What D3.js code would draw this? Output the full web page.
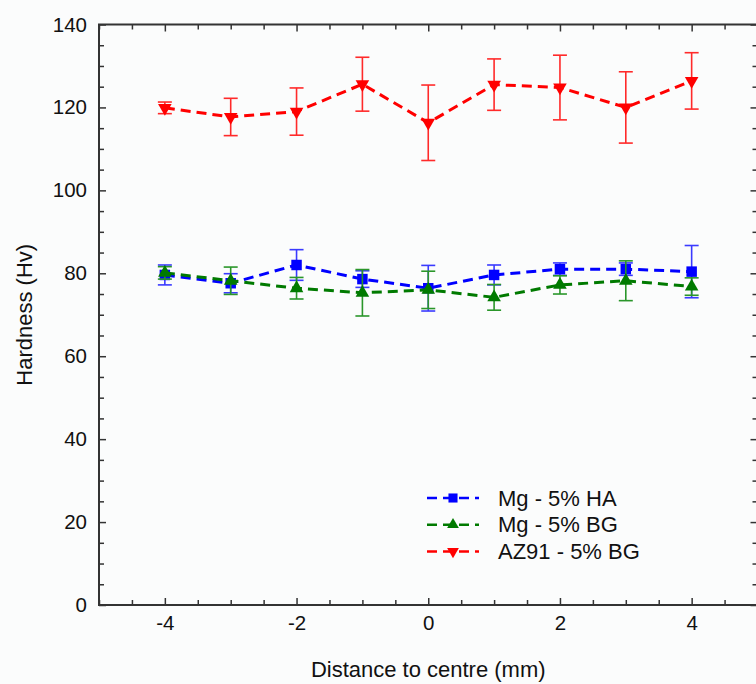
<!DOCTYPE html>
<html>
<head>
<meta charset="utf-8">
<script src="https://cdn.jsdelivr.net/npm/d3@7"></script>
<style>
  body { margin: 0; background: #fbfcfc; }
  svg { display: block; font-family: "Liberation Sans", Arial, sans-serif; }
</style>
</head>
<body>
<div id="chart"></div>
<script>
// positions along the sample (mm)
var distances = [-4, -3, -2, -1, 0, 1, 2, 3, 4];

var seriesNames = ['Mg - 5% HA', 'Mg - 5% BG', 'AZ91 - 5% BG'];

var haValues = [79.6, 77.6, 82.0, 78.6, 76.4, 79.6, 81.0, 81.0, 80.4];
var haErrors = [2.4, 2.3, 3.7, 2.0, 5.5, 2.4, 1.5, 1.5, 6.3];

var bgValues = [80.1, 78.2, 76.4, 75.3, 76.0, 74.2, 77.2, 78.2, 76.8];
var bgErrors = [1.5, 3.3, 2.6, 5.6, 4.5, 3.1, 2.2, 4.8, 2.1];

var az91Values = [119.9, 117.7, 119.0, 125.6, 116.3, 125.5, 124.8, 120.0, 126.4];
var az91Errors = [1.4, 4.5, 5.7, 6.5, 9.1, 6.2, 7.8, 8.6, 6.8];

var xTicks = [-4, -2, 0, 2, 4];
var yTicks = [0, 20, 40, 60, 80, 100, 120, 140];

var width = 756, height = 684;
var margin = {left: 99, top: 24.5, right: -1.5, bottom: 79};

var svg = d3.select('#chart').append('svg')
    .attr('width', width)
    .attr('height', height);

var x = d3.scaleLinear().domain([-5, 5]).range([margin.left, width - margin.right]);
var y = d3.scaleLinear().domain([0, 140]).range([height - margin.bottom, margin.top]);

var frameColor = '#333';

function axisGroup(axis, tx, ty) {
    var g = svg.append('g')
        .attr('transform', 'translate(' + tx + ',' + ty + ')')
        .call(axis);
    g.select('.domain').remove();
    g.selectAll('line').attr('stroke', frameColor).attr('stroke-width', 1.5);
    return g;
}

// minor ticks
var xMinor = d3.range(-5, 5.01, 0.5).filter(function(d) { return d % 2 !== 0; });
var yMinor = d3.range(0, 141, 5).filter(function(d) { return d % 20 !== 0; });

var bottomY = y(0), topY = y(140), leftX = x(-5), rightX = x(5);

axisGroup(d3.axisBottom(x).tickValues(xTicks).tickSize(-7).tickFormat(function(d) { return String(d); }).tickPadding(10), 0, bottomY)
    .selectAll('text').attr('font-size', 20.5).attr('fill', '#111');
axisGroup(d3.axisBottom(x).tickValues(xMinor).tickSize(-5).tickFormat(''), 0, bottomY);
axisGroup(d3.axisTop(x).tickValues(xTicks).tickSize(-7).tickFormat(''), 0, topY);
axisGroup(d3.axisTop(x).tickValues(xMinor).tickSize(-5).tickFormat(''), 0, topY);

axisGroup(d3.axisLeft(y).tickValues(yTicks).tickSize(-7).tickPadding(12), leftX, 0)
    .selectAll('text').attr('font-size', 20.5).attr('fill', '#111');
axisGroup(d3.axisLeft(y).tickValues(yMinor).tickSize(-5).tickFormat(''), leftX, 0);
axisGroup(d3.axisRight(y).tickValues(yTicks).tickSize(-7).tickFormat(''), rightX, 0);
axisGroup(d3.axisRight(y).tickValues(yMinor).tickSize(-5).tickFormat(''), rightX, 0);

svg.append('rect')
    .attr('x', leftX).attr('y', topY)
    .attr('width', rightX - leftX).attr('height', bottomY - topY)
    .attr('fill', 'none').attr('stroke', frameColor).attr('stroke-width', 2);

// axis titles
svg.append('text')
    .attr('x', x(0)).attr('y', 677)
    .attr('text-anchor', 'middle').attr('font-size', 22).attr('fill', '#111')
    .text('Distance to centre (mm)');

svg.append('text')
    .attr('transform', 'translate(32,' + y(70) + ') rotate(-90)')
    .attr('text-anchor', 'middle').attr('font-size', 22).attr('fill', '#111')
    .text('Hardness (Hv)');

// series
var series = [
    {name: seriesNames[0], values: haValues, errors: haErrors, color: '#0000ff', bar: '#3a3aff', symbol: d3.symbolSquare, size: 110, rot: 0},
    {name: seriesNames[1], values: bgValues, errors: bgErrors, color: '#007a00', bar: '#2a962a', symbol: d3.symbolTriangle, size: 80, rot: 0},
    {name: seriesNames[2], values: az91Values, errors: az91Errors, color: '#ff0000', bar: '#ff2a2a', symbol: d3.symbolTriangle, size: 80, rot: 180}
];

var line = d3.line()
    .x(function(d) { return x(d.x); })
    .y(function(d) { return y(d.v); });

var capHalf = 7;

series.forEach(function(s) {
    var pts = distances.map(function(d, i) {
        return {x: d, v: s.values[i], e: s.errors[i]};
    });
    var g = svg.append('g');

    var bars = g.selectAll('.err').data(pts).enter().append('g')
        .attr('stroke', s.bar).attr('stroke-width', 1.6);
    bars.append('line')
        .attr('x1', function(d) { return x(d.x); }).attr('x2', function(d) { return x(d.x); })
        .attr('y1', function(d) { return y(d.v + d.e); }).attr('y2', function(d) { return y(d.v - d.e); });
    bars.append('line')
        .attr('x1', function(d) { return x(d.x) - capHalf; }).attr('x2', function(d) { return x(d.x) + capHalf; })
        .attr('y1', function(d) { return y(d.v + d.e); }).attr('y2', function(d) { return y(d.v + d.e); });
    bars.append('line')
        .attr('x1', function(d) { return x(d.x) - capHalf; }).attr('x2', function(d) { return x(d.x) + capHalf; })
        .attr('y1', function(d) { return y(d.v - d.e); }).attr('y2', function(d) { return y(d.v - d.e); });

    g.append('path')
        .attr('d', line(pts))
        .attr('fill', 'none')
        .attr('stroke', s.color)
        .attr('stroke-width', 3)
        .attr('stroke-dasharray', '10,6');

    g.selectAll('.mark').data(pts).enter().append('path')
        .attr('d', d3.symbol().type(s.symbol).size(s.size))
        .attr('transform', function(d) {
            return 'translate(' + x(d.x) + ',' + y(d.v) + ') rotate(' + s.rot + ')';
        })
        .attr('fill', s.color);
});

// legend
var legend = svg.append('g').attr('transform', 'translate(427,498)');
series.forEach(function(s, i) {
    var row = legend.append('g').attr('transform', 'translate(0,' + (i * 26.7) + ')');
    row.append('line')
        .attr('x1', 0).attr('x2', 52).attr('y1', 0).attr('y2', 0)
        .attr('stroke', s.color).attr('stroke-width', 2.5)
        .attr('stroke-dasharray', '10,6');
    row.append('path')
        .attr('d', d3.symbol().type(s.symbol).size(s.size * 0.75))
        .attr('transform', 'translate(26,0) rotate(' + s.rot + ')')
        .attr('fill', s.color);
    row.append('text')
        .attr('x', 71).attr('y', 7.5)
        .attr('font-size', 22).attr('fill', '#111')
        .text(s.name);
});
</script>
</body>
</html>
